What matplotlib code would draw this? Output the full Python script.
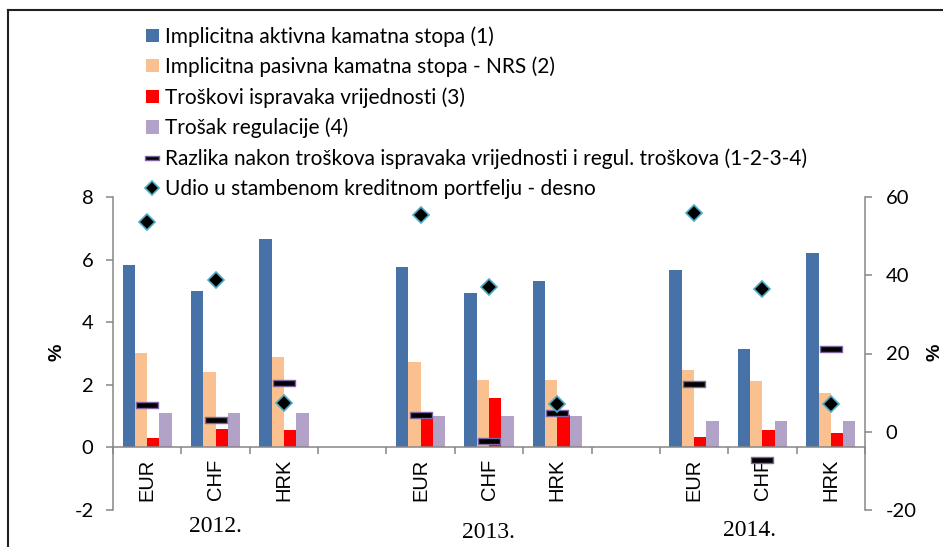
import matplotlib.pyplot as plt
import numpy as np
from matplotlib.lines import Line2D
from matplotlib.patches import Patch
from matplotlib.path import Path

plt.rcParams["font.family"] = ["Lato", "DejaVu Sans"]
plt.rcParams["axes.unicode_minus"] = False

categories = ["EUR", "CHF", "HRK", "", "EUR", "CHF", "HRK", "", "EUR", "CHF", "HRK"]
years = ["2012.", "2013.", "2014."]

nan = np.nan
aktivna = [5.83, 5.00, 6.67, nan, 5.77, 4.92, 5.33, nan, 5.67, 3.15, 6.20]
pasivna = [3.03, 2.42, 2.90, nan, 2.74, 2.14, 2.16, nan, 2.47, 2.13, 1.73]
ispravci = [0.31, 0.60, 0.57, nan, 0.97, 1.58, 1.03, nan, 0.33, 0.57, 0.46]
regulacija = [1.11, 1.11, 1.11, nan, 0.99, 0.99, 0.99, nan, 0.83, 0.83, 0.83]
razlika = [1.36, 0.86, 2.07, nan, 1.04, 0.19, 1.10, nan, 2.03, -0.39, 3.15]
udio = [53.5, 38.9, 7.3, nan, 55.4, 37.1, 7.2, nan, 56.0, 36.4, 7.2]

labels = [
    "Implicitna aktivna kamatna stopa (1)",
    "Implicitna pasivna kamatna stopa - NRS (2)",
    "Troškovi ispravaka vrijednosti (3)",
    "Trošak regulacije (4)",
    "Razlika nakon troškova ispravaka vrijednosti i regul. troškova (1-2-3-4)",
    "Udio u stambenom kreditnom portfelju - desno",
]
colors = ["#4672A8", "#FAC090", "#FF0000", "#B3A2C7"]
gray = "#868686"

fig = plt.figure(figsize=(9.43, 5.47), dpi=100)
ax = fig.add_axes([113 / 943, 37 / 547, 752 / 943, 313 / 547])
ax2 = ax.twinx()

x = np.arange(len(categories))
w = 0.18
for k, vals in enumerate([aktivna, pasivna, ispravci, regulacija]):
    ax.bar(x + (k - 1.5) * w, vals, width=w, color=colors[k], zorder=2)

# flat bar-shaped marker for the "Razlika" series
dash = Path([(-1, -0.22), (1, -0.22), (1, 0.22), (-1, 0.22), (-1, -0.22)],
            [Path.MOVETO, Path.LINETO, Path.LINETO, Path.LINETO, Path.CLOSEPOLY])
ax.plot(x, razlika, linestyle="none", marker=dash, markersize=16.5,
        markerfacecolor="black", markeredgecolor="#7F64A2", markeredgewidth=1.0, zorder=3)
ax2.plot(x, udio, linestyle="none", marker="D", markersize=8.5,
         markerfacecolor="black", markeredgecolor="#4BACC6", markeredgewidth=1.2, zorder=3)

ax.set_xlim(-0.5, len(categories) - 0.5)
ax.set_ylim(-2, 8)
ax.set_yticks([-2, 0, 2, 4, 6, 8])
ax2.set_ylim(-20, 60)
ax2.set_yticks([-20, 0, 20, 40, 60])

for s in ["top", "right"]:
    ax.spines[s].set_visible(False)
for s in ["top", "left", "bottom"]:
    ax2.spines[s].set_visible(False)
ax.spines["bottom"].set_position(("data", 0))
for sp in [ax.spines["left"], ax.spines["bottom"], ax2.spines["right"]]:
    sp.set_color(gray)
    sp.set_linewidth(1.1)

ax.set_xticks(x)
ax.set_xticklabels(categories, rotation=90, va="top", family="Liberation Sans", fontsize=14.5)
ax.set_xticks(np.arange(-0.5, len(categories)), minor=True)
ax.tick_params(axis="x", which="major", length=0, pad=8)
ax.tick_params(axis="x", which="minor", length=5, width=1.1, color=gray, direction="out")
ax.tick_params(axis="y", length=5, width=1.1, color=gray, labelsize=14.5, pad=9)
ax2.tick_params(axis="y", length=5, width=1.1, color=gray, labelsize=14.5, pad=10)

fig.text(57 / 943, 1 - 352 / 547, "%", rotation=90, ha="center", va="center",
         fontsize=14, fontweight="bold", family="Liberation Sans")
fig.text(935 / 943, 1 - 352 / 547, "%", rotation=90, ha="center", va="center",
         fontsize=14, fontweight="bold", family="Liberation Sans")

for yr, px, py in zip(years, [215, 488, 750], [527, 532, 531]):
    fig.text(px / 943, 1 - py / 547, yr, ha="center", va="center",
             fontsize=17, family="Liberation Serif")

handles = [Patch(facecolor=c) for c in colors]
handles.append(Line2D([], [], linestyle="none", marker=dash, markersize=10,
                      markerfacecolor="black", markeredgecolor="#7F64A2", markeredgewidth=1.0))
handles.append(Line2D([], [], linestyle="none", marker="D", markersize=7.5,
                      markerfacecolor="black", markeredgecolor="#4BACC6", markeredgewidth=1.2))
fig.legend(handles, labels, loc="upper left", bbox_to_anchor=(146 / 943, 1 - 26 / 547),
           frameon=False, fontsize=15, handlelength=0.6, handleheight=0.6,
           handletextpad=0.3, labelspacing=0.48, borderaxespad=0, borderpad=0)

fig.add_artist(Line2D([8 / 943, 8 / 943], [0, 1 - 10 / 547], transform=fig.transFigure,
                      color="#202020", linewidth=1.5))
fig.add_artist(Line2D([8 / 943, 1], [1 - 10 / 547, 1 - 10 / 547], transform=fig.transFigure,
                      color="#202020", linewidth=1.5))

fig.savefig("out.png", dpi=100)
